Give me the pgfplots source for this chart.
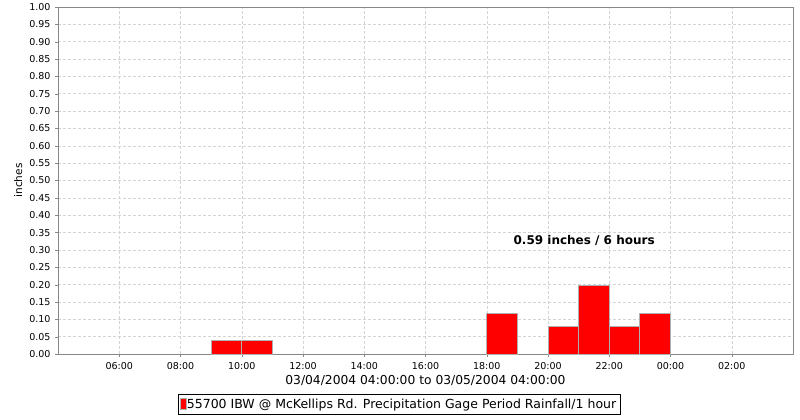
\documentclass[border=0pt]{standalone}
\usepackage{fontspec}
\setmainfont{DejaVu Sans}
\usepackage{pgfplots}
\pgfplotsset{compat=1.18}
\definecolor{axgray}{HTML}{888888}
\definecolor{gridgray}{HTML}{D4D4D4}
\definecolor{bargray}{HTML}{B0B0B0}
\begin{document}
\begin{tikzpicture}
\path[use as bounding box] (-58pt,-66pt) rectangle (742pt,354pt);
\begin{axis}[
  at={(0,0)}, anchor=south west,
  scale only axis, width=735pt, height=347pt,
  xmin=0, xmax=24, ymin=0, ymax=1,
  xtick={2,4,...,22},
  xticklabels={06:00,08:00,10:00,12:00,14:00,16:00,18:00,20:00,22:00,00:00,02:00},
  ytick={0,0.05,...,1.0001},
  yticklabel style={/pgf/number format/fixed, /pgf/number format/fixed zerofill, /pgf/number format/precision=2, xshift=-1pt},
  /pgf/number format/assume math mode=true,
  tick label style={font=\fontsize{9.5}{11}\selectfont, text=black},
  xticklabel style={yshift=-2pt},
  major tick length=3pt,
  tick style={axgray},
  tick align=outside,
  xtick pos=bottom, ytick pos=left,
  axis line style={axgray},
  grid=major,
  major grid style={gridgray, dash pattern=on 3pt off 2pt, line width=0.5pt},
  xlabel={03/04/2004 04:00:00 to 03/05/2004 04:00:00},
  xlabel style={font=\fontsize{12.3}{14}\selectfont, at={(axis description cs:0.5,-0.075)}, anchor=center},
  ylabel={inches},
  ylabel style={font=\fontsize{10.5}{12}\selectfont, at={(axis description cs:-0.054,0.5)}, anchor=center},
  legend style={at={(0.464,-0.116)}, anchor=north, draw=black, line width=0.8pt,
    font=\fontsize{12.5}{14}\selectfont, inner xsep=2pt, inner ysep=2.5pt},
  legend cell align=left,
]
\addplot[ybar, bar width=1, fill=red, draw=bargray, line width=0.8pt,
  legend image code/.code={\draw[fill=red, draw=bargray, line width=0.5pt] (0pt,-5pt) rectangle (6pt,6pt);}]
  coordinates {(5.5,0.038) (6.5,0.038) (14.5,0.117) (16.5,0.079) (17.5,0.197) (18.5,0.079) (19.5,0.117)};
\addlegendentry{\hspace{-1.5pt}55700 IBW @ McKellips Rd. Precipitation Gage Period Rainfall/1 hour}
\node[font=\bfseries\fontsize{12}{14}\selectfont] at (axis cs:17.18,0.326) {0.59 inches / 6 hours};
\end{axis}
\end{tikzpicture}
\end{document}
